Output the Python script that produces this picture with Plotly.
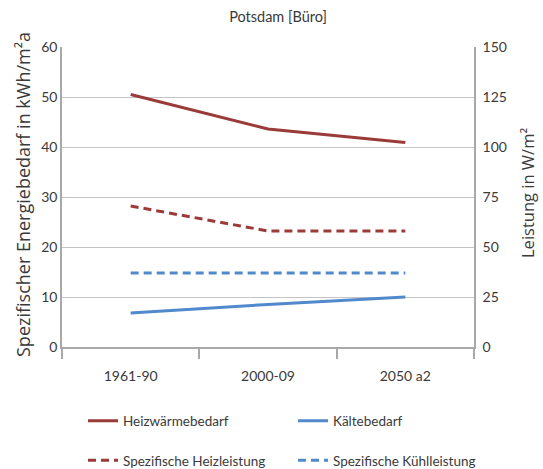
import plotly.graph_objects as go

categories = ["1961-90", "2000-09", "2050 a2"]
heizwaermebedarf = [50.5, 43.6, 40.9]
kaeltebedarf = [6.8, 8.5, 10.0]
spez_heizleistung = [70.5, 58.0, 58.0]
spez_kuehlleistung = [37.0, 37.0, 37.0]

left_ticks = [0, 10, 20, 30, 40, 50, 60]
right_ticks = [0, 25, 50, 75, 100, 125, 150]

RED = "#9B3B39"
BLUE = "#5089CC"
GRID = "#C4C4C4"
AXIS = "#A8A8A8"
TXT = "#3A3A3A"
NARROW = "Lato, Open Sans, sans-serif"
SANS = "Open Sans, DejaVu Sans, sans-serif"

W, H = 543, 469
L, R, T, B = 62, 69, 47, 122
pw = W - L - R
ph = H - T - B

fig = go.Figure()
fig.add_trace(go.Scatter(x=categories, y=heizwaermebedarf, name="Heizwärmebedarf",
                         mode="lines", line=dict(color=RED, width=3),
                         legend="legend", legendgroup="a"))
fig.add_trace(go.Scatter(x=categories, y=spez_heizleistung, name="Spezifische Heizleistung",
                         mode="lines", line=dict(color=RED, width=3, dash="8px,5px"),
                         yaxis="y2", legend="legend", legendgroup="b"))
fig.add_trace(go.Scatter(x=categories, y=kaeltebedarf, name="Kältebedarf",
                         mode="lines", line=dict(color=BLUE, width=3),
                         legend="legend2", legendgroup="c"))
fig.add_trace(go.Scatter(x=categories, y=spez_kuehlleistung, name="Spezifische Kühlleistung",
                         mode="lines", line=dict(color=BLUE, width=3, dash="8px,5px"),
                         yaxis="y2", legend="legend2", legendgroup="d"))

def px2x(p):
    return (p - L) / pw

def py2y(p):
    return (H - B - p) / ph

legend_common = dict(orientation="v", xref="container", yref="container",
                     xanchor="left", yanchor="middle", y=1 - 441 / H,
                     traceorder="grouped", tracegroupgap=19,
                     font=dict(family=NARROW, size=13.5, color=TXT),
                     bgcolor="rgba(0,0,0,0)", itemwidth=30)

fig.update_layout(
    width=W, height=H,
    margin=dict(l=L, r=R, t=T, b=B, autoexpand=False),
    paper_bgcolor="white", plot_bgcolor="white",
    showlegend=True,
    title=dict(text="Potsdam [Büro]", x=278 / W, xanchor="center",
               y=1 - 17 / H, yanchor="middle", yref="container",
               font=dict(family=NARROW, size=14.5, color=TXT)),
    xaxis=dict(type="category", range=[-0.5, 2.5], tickson="boundaries",
               ticks="outside", ticklen=10, tickcolor=AXIS, tickwidth=1.5,
               showline=True, linecolor=AXIS, linewidth=1.5, showgrid=False,
               ticklabelstandoff=15, tickangle=0,
               tickfont=dict(family=NARROW, size=14, color=TXT)),
    yaxis=dict(range=[0, 60], tickvals=left_ticks, showgrid=True, gridcolor=GRID,
               gridwidth=1, showline=True, linecolor=AXIS, linewidth=1.5,
               zeroline=False, ticks="", ticklabelstandoff=0,
               tickfont=dict(family=NARROW, size=14, color=TXT)),
    yaxis2=dict(range=[0, 150], tickvals=right_ticks, overlaying="y", side="right",
                showgrid=False, showline=True, linecolor=AXIS, linewidth=1.5,
                zeroline=False, ticks="", ticklabelstandoff=4,
                tickfont=dict(family=NARROW, size=14, color=TXT)),
    legend=dict(legend_common, x=83 / W),
    legend2=dict(legend_common, x=293 / W),
    annotations=[
        dict(text="Spezifischer Energiebedarf in kWh/m²a", textangle=-90,
             xref="paper", yref="paper", x=px2x(23), y=py2y(195),
             xanchor="center", yanchor="middle", showarrow=False,
             font=dict(family=SANS, size=18, color=TXT)),
        dict(text="Leistung in W/m²", textangle=-90,
             xref="paper", yref="paper", x=px2x(527), y=py2y(193),
             xanchor="center", yanchor="middle", showarrow=False,
             font=dict(family=SANS, size=16.5, color=TXT)),
    ],
)

fig.write_html("out.html", config={"displayModeBar": False},
               post_script="document.body.style.margin='0';")
